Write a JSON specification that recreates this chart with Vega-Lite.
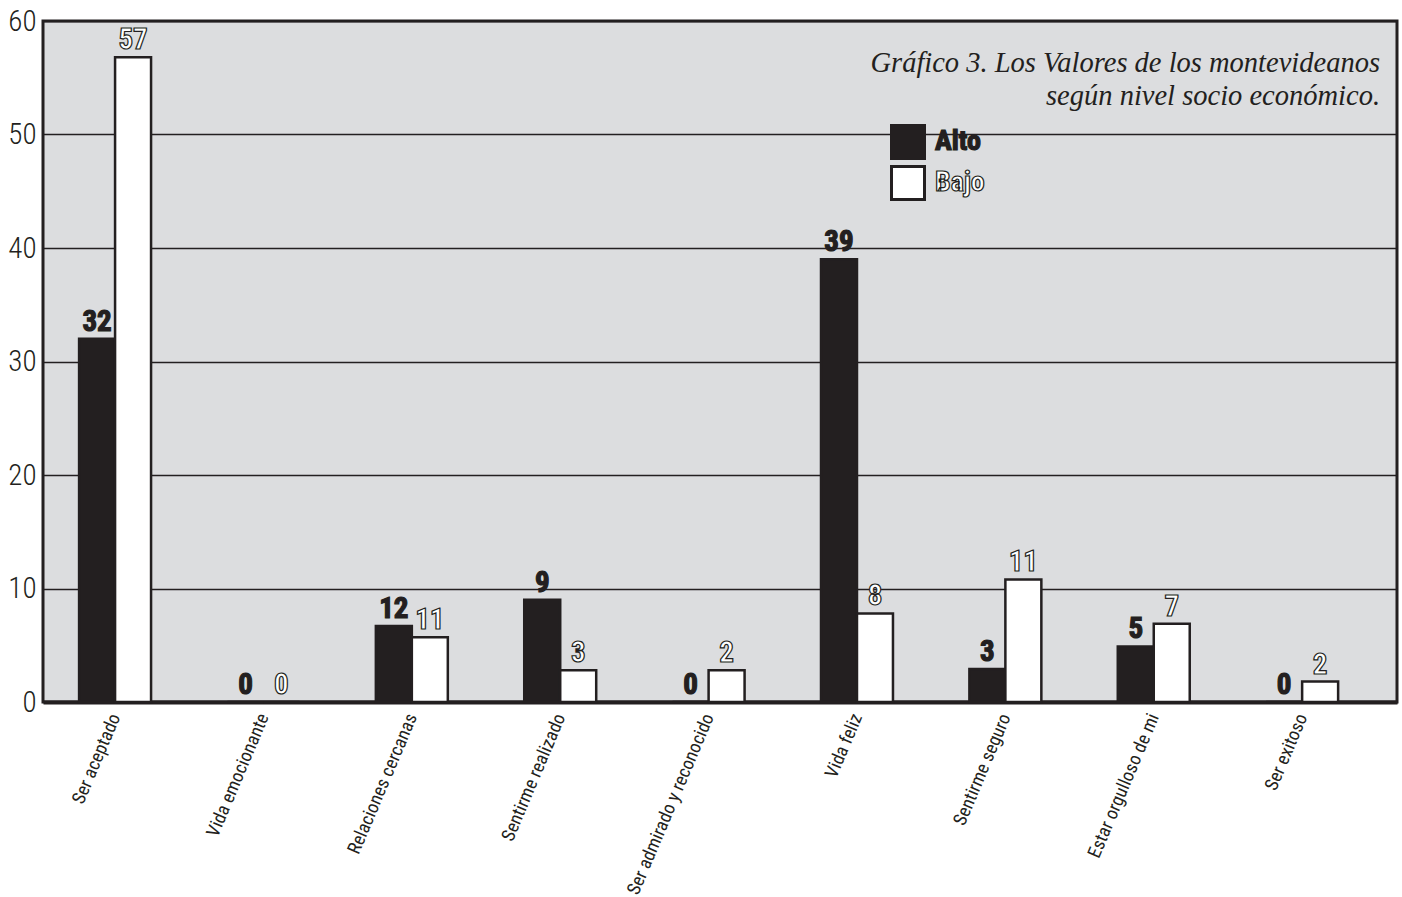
{
  "$schema": "https://vega.github.io/schema/vega-lite/v6.json",
  "autosize": "none",
  "width": 1354,
  "height": 681,
  "padding": {"left": 43, "top": 21, "right": 5, "bottom": 195},
  "background": "white",
  "config": {
    "view": {"fill": "#dcdddf", "stroke": "#231f20", "strokeWidth": 3},
    "font": "Roboto Condensed, Roboto, sans-serif"
  },
  "title": {
    "text": ["Gráfico 3.  Los Valores de los montevideanos", "según nivel socio económico."],
    "anchor": "end",
    "orient": "top",
    "frame": "group",
    "offset": -103,
    "dx": -17,
    "align": "right",
    "font": "Liberation Serif",
    "fontStyle": "italic",
    "fontWeight": "normal",
    "fontSize": 28.5,
    "lineHeight": 33,
    "color": "#231f20"
  },
  "data": {
    "values": [
      {"categoria": "Ser aceptado", "nivel": "Alto", "valor": 32, "etiqueta": "32"},
      {"categoria": "Ser aceptado", "nivel": "Bajo", "valor": 56.8, "etiqueta": "57"},
      {"categoria": "Vida emocionante", "nivel": "Alto", "valor": 0, "etiqueta": "0"},
      {"categoria": "Vida emocionante", "nivel": "Bajo", "valor": 0, "etiqueta": "0"},
      {"categoria": "Relaciones cercanas", "nivel": "Alto", "valor": 6.7, "etiqueta": "12"},
      {"categoria": "Relaciones cercanas", "nivel": "Bajo", "valor": 5.7, "etiqueta": "11"},
      {"categoria": "Sentirme realizado", "nivel": "Alto", "valor": 9, "etiqueta": "9"},
      {"categoria": "Sentirme realizado", "nivel": "Bajo", "valor": 2.8, "etiqueta": "3"},
      {"categoria": "Ser admirado y reconocido", "nivel": "Alto", "valor": 0, "etiqueta": "0"},
      {"categoria": "Ser admirado y reconocido", "nivel": "Bajo", "valor": 2.8, "etiqueta": "2"},
      {"categoria": "Vida feliz", "nivel": "Alto", "valor": 39, "etiqueta": "39"},
      {"categoria": "Vida feliz", "nivel": "Bajo", "valor": 7.8, "etiqueta": "8"},
      {"categoria": "Sentirme seguro", "nivel": "Alto", "valor": 2.9, "etiqueta": "3"},
      {"categoria": "Sentirme seguro", "nivel": "Bajo", "valor": 10.8, "etiqueta": "11"},
      {"categoria": "Estar orgulloso de mi", "nivel": "Alto", "valor": 4.9, "etiqueta": "5"},
      {"categoria": "Estar orgulloso de mi", "nivel": "Bajo", "valor": 6.9, "etiqueta": "7"},
      {"categoria": "Ser exitoso", "nivel": "Alto", "valor": 0, "etiqueta": "0"},
      {"categoria": "Ser exitoso", "nivel": "Bajo", "valor": 1.8, "etiqueta": "2"}
    ]
  },
  "encoding": {
    "x": {
      "field": "categoria",
      "type": "nominal",
      "sort": null,
      "scale": {"paddingInner": 0.515, "paddingOuter": 0.32, "align": 0.38},
      "axis": {
        "title": null,
        "labelAngle": -67,
        "labelAlign": "right",
        "labelBaseline": "middle",
        "labelFontSize": 18.5,
        "labelColor": "#231f20",
        "labelPadding": 12,
        "labelLimit": 0,
        "ticks": false,
        "domain": true,
        "domainColor": "#231f20",
        "domainWidth": 4
      }
    },
    "xOffset": {"field": "nivel", "type": "nominal", "scale": {"paddingInner": 0}},
    "y": {
      "field": "valor",
      "type": "quantitative",
      "scale": {"domain": [0, 60], "nice": false},
      "axis": {
        "title": null,
        "values": [0, 10, 20, 30, 40, 50, 60],
        "grid": true,
        "gridColor": "#231f20",
        "gridWidth": 1.5,
        "gridOpacity": 1,
        "ticks": false,
        "domain": false,
        "labelFontSize": 29,
        "labelFontWeight": 300,
        "labelColor": "#231f20",
        "labelPadding": 7
      }
    },
    "color": {
      "field": "nivel",
      "type": "nominal",
      "scale": {"domain": ["Alto", "Bajo"], "range": ["#231f20", "#ffffff"]},
      "legend": {
        "orient": "none",
        "legendX": 847,
        "legendY": 103,
        "title": null,
        "symbolType": "square",
        "symbolSize": 1089,
        "symbolStrokeColor": "#231f20",
        "symbolStrokeWidth": 3,
        "symbolOpacity": 1,
        "labelFontSize": 28,
        "labelFontWeight": "bold",
        "labelOffset": 9,
        "rowPadding": -15,
        "encode": {
          "labels": {
            "update": {
              "fill": {"signal": "datum.label === 'Bajo' ? '#ffffff' : '#231f20'"},
              "stroke": {"value": "#231f20"},
              "strokeWidth": {"value": 1.2}
            }
          }
        }
      }
    }
  },
  "layer": [
    {
      "mark": {"type": "bar", "stroke": "#231f20", "strokeWidth": 2.5, "opacity": 1}
    },
    {
      "mark": {
        "type": "text",
        "baseline": "alphabetic",
        "dy": -8,
        "fontSize": 29,
        "fontWeight": "bold",
        "stroke": "#231f20",
        "strokeWidth": 1.2,
        "opacity": 1
      },
      "encoding": {
        "text": {"field": "etiqueta", "type": "nominal"}
      }
    }
  ]
}
